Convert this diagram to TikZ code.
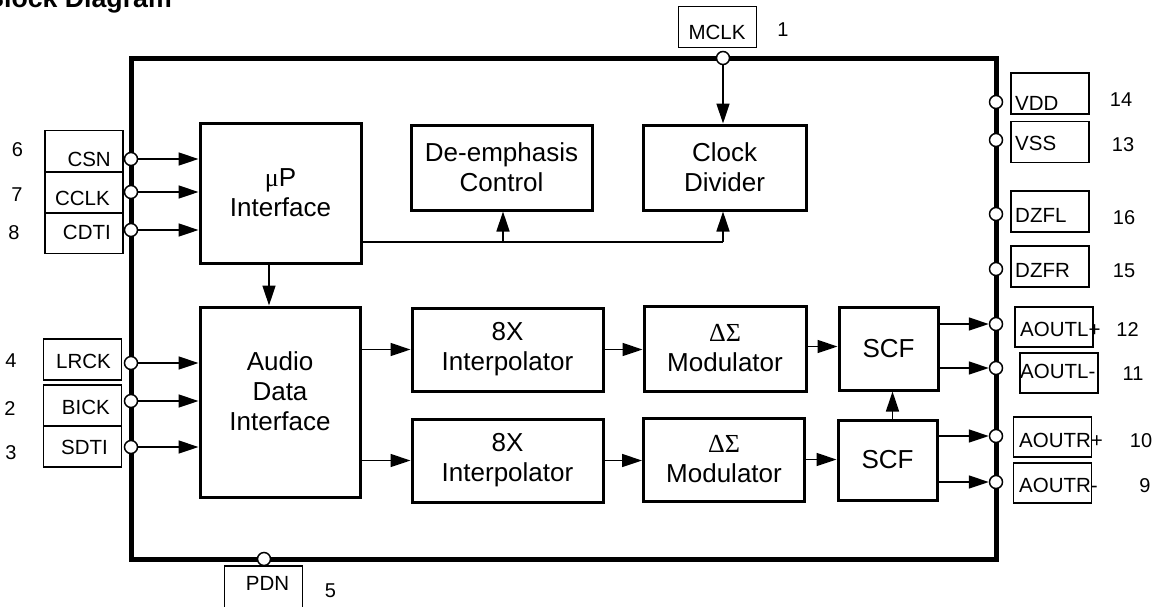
\documentclass[tikz,border=0pt]{standalone}
\usepackage{fontspec}
\setmainfont{Liberation Sans}
\newfontfamily\grk{Liberation Serif}
\usetikzlibrary{arrows.meta}
\begin{document}
\begin{tikzpicture}[x=1pt,y=-1pt,
  blk/.style={draw,line width=3pt,align=center,inner sep=0pt,font=\fontsize{26}{30}\selectfont},
  pinbox/.style={draw,line width=1.3pt,inner sep=0pt,minimum width=78pt,minimum height=41pt},
  pin/.style={circle,draw,fill=white,line width=1.5pt,minimum size=13pt,inner sep=0pt},
  lbl/.style={inner sep=0pt,font=\fontsize{20.5}{24}\selectfont},
  num/.style={inner sep=0pt,font=\fontsize{20}{24}\selectfont},
  arr/.style={line width=1.5pt,-{Triangle[length=20pt,width=13pt]}},
  wire/.style={line width=1.5pt},
  chip/.style={line width=5pt}]
\useasboundingbox (0,0) rectangle (1155,606);

% title (partly cut off at the top, as in the reference)
\node[anchor=base east,inner sep=0pt,font=\fontsize{26.7}{30}\selectfont\bfseries] (title) at (172,7) {Block Diagram};

% chip outline
\draw[chip] (131,58) rectangle (996,559);

% blocks
\node[blk,minimum width=161pt,minimum height=140pt] (up) at (280.5,193) {{\grk μ}P\\Interface};
\node[blk,minimum width=160pt,minimum height=190pt] (adi) at (280,402) {Audio\\Data\\Interface\\[-8pt]};
\node[blk,minimum width=181pt,minimum height=85pt] (deemph) at (501.5,167.5) {De-emphasis\\Control};
\node[blk,minimum width=163pt,minimum height=85pt] (clkdiv) at (724.5,167.5) {Clock\\Divider};
\node[blk,minimum width=191pt,minimum height=83pt] (int1) at (507.5,349.5) {8X\\Interpolator};
\node[blk,minimum width=191pt,minimum height=83pt] (int2) at (507.5,460.5) {8X\\Interpolator};
\node[blk,minimum width=162pt,minimum height=85pt] (mod1) at (725,348.5) {{\grk ΔΣ}\\Modulator};
\node[blk,minimum width=161pt,minimum height=83pt] (mod2) at (724,459.5) {{\grk ΔΣ}\\Modulator};
\node[blk,minimum width=99pt,minimum height=83pt] (scf1) at (888.5,348.5) {SCF};
\node[blk,minimum width=99pt,minimum height=80pt] (scf2) at (887.5,460) {SCF};

% pin label boxes
\node[pinbox] (bcsn) at (84,151) {};
\node[pinbox] (bcclk) at (84,192.5) {};
\node[pinbox] (bcdti) at (84,233) {};
\node[pinbox] (blrck) at (82.5,359.5) {};
\node[pinbox] (bbick) at (82.5,405.5) {};
\node[pinbox] (bsdti) at (82.5,446.5) {};
\node[pinbox] (bmclk) at (717.5,27) {};
\node[pinbox,minimum height=44pt] (bpdn) at (263.5,588) {};
\node[pinbox] (bvdd) at (1050,93.5) {};
\node[pinbox] (bvss) at (1050,142) {};
\node[pinbox] (bdzfl) at (1050,211.5) {};
\node[pinbox] (bdzfr) at (1050,266.5) {};
\node[pinbox,minimum height=40pt] (baoutlp) at (1054,327) {};
\node[pinbox,minimum height=40pt] (baoutlm) at (1059,373) {};
\node[pinbox,minimum height=40pt] (baoutrp) at (1052.5,437) {};
\node[pinbox,minimum height=40pt] (baoutrm) at (1052.5,483) {};

% pin label texts
\node[lbl,anchor=east] (tcsn) at (111,159) {CSN};
\node[lbl,anchor=east] (tcclk) at (110,198) {CCLK};
\node[lbl,anchor=east] (tcdti) at (111,232) {CDTI};
\node[lbl,anchor=east] (tlrck) at (111,361) {LRCK};
\node[lbl,anchor=east] (tbick) at (110,407.5) {BICK};
\node[lbl,anchor=east] (tsdti) at (108,447) {SDTI};
\node[lbl] (tmclk) at (717,32.5) {MCLK};
\node[lbl] (tpdn) at (267.5,583.5) {PDN};
\node[lbl,anchor=west] (tvdd) at (1015,103.5) {VDD};
\node[lbl,anchor=west] (tvss) at (1015,143) {VSS};
\node[lbl,anchor=west] (tdzfl) at (1015,215) {DZFL};
\node[lbl,anchor=west] (tdzfr) at (1015,270) {DZFR};
\node[lbl,anchor=west] (taoutlp) at (1020,329.5) {AOUTL+};
\node[lbl,anchor=west] (taoutlm) at (1020,371) {AOUTL-};
\node[lbl,anchor=west] (taoutrp) at (1019,440) {AOUTR+};
\node[lbl,anchor=west] (taoutrm) at (1019,485) {AOUTR-};

% pin numbers
\node[num] (n6) at (17.5,149.5) {6};
\node[num] (n7) at (17,195) {7};
\node[num] (n8) at (14,232.5) {8};
\node[num] (n4) at (11,361) {4};
\node[num] (n2) at (10,408.5) {2};
\node[num] (n3) at (11,453) {3};
\node[num] (n1) at (783,30) {1};
\node[num] (n5) at (330.5,590.5) {5};
\node[num] (n14) at (1121,100) {14};
\node[num] (n13) at (1123,145) {13};
\node[num] (n16) at (1124,217.5) {16};
\node[num] (n15) at (1124,271) {15};
\node[num] (n12) at (1127.5,330) {12};
\node[num] (n11) at (1133,373.5) {11};
\node[num] (n10) at (1141,441) {10};
\node[num] (n9) at (1145,485.5) {9};

% pins (circles on the outline)
\node[pin] (csn) at (131,159) {};
\node[pin] (cclk) at (131,192) {};
\node[pin] (cdti) at (131,230) {};
\node[pin] (lrck) at (131,363) {};
\node[pin] (bick) at (131,401) {};
\node[pin] (sdti) at (131,447) {};
\node[pin] (mclk) at (723,58) {};
\node[pin] (pdn) at (264,559) {};
\node[pin] (vdd) at (996,102) {};
\node[pin] (vss) at (996,140) {};
\node[pin] (dzfl) at (996,214) {};
\node[pin] (dzfr) at (996,269) {};
\node[pin] (aoutlp) at (996,324) {};
\node[pin] (aoutlm) at (996,368) {};
\node[pin] (aoutrp) at (996,436) {};
\node[pin] (aoutrm) at (996,482) {};

% connectors
\draw[arr] (csn.east) -- (csn.east -| up.west);
\draw[arr] (cclk.east) -- (cclk.east -| up.west);
\draw[arr] (cdti.east) -- (cdti.east -| up.west);
\draw[arr] (lrck.east) -- (lrck.east -| adi.west);
\draw[arr] (bick.east) -- (bick.east -| adi.west);
\draw[arr] (sdti.east) -- (sdti.east -| adi.west);

\draw[arr] ([xshift=-11.5pt]up.south) -- ([xshift=-11.5pt]up.south |- adi.north);

\coordinate (bus) at (0,242);
\draw[wire] (up.east |- bus) -- ([xshift=-1.5pt]clkdiv.south |- bus);
\draw[arr] ([xshift=1.5pt]deemph.south |- bus) -- ([xshift=1.5pt]deemph.south);
\draw[arr] ([xshift=-1.5pt]clkdiv.south |- bus) -- ([xshift=-1.5pt]clkdiv.south);
\draw[arr] (mclk.south) -- (mclk.south |- clkdiv.north);

\draw[arr] (int1.west -| adi.east) -- (int1.west);
\draw[arr] (int2.west -| adi.east) -- (int2.west);
\draw[arr] (int1.east) -- (int1.east -| mod1.west);
\draw[arr] (int2.east) -- (int2.east -| mod2.west);
\draw[arr] ([yshift=2pt]mod1.east) -- ([yshift=2pt]mod1.east -| scf1.west);
\draw[arr] (mod2.east) -- (mod2.east -| scf2.west);
\draw[arr] ([xshift=5pt]scf2.north) -- ([xshift=5pt]scf2.north |- scf1.south);

\draw[arr] (scf1.east |- aoutlp) -- (aoutlp.west);
\draw[arr] (scf1.east |- aoutlm) -- (aoutlm.west);
\draw[arr] (scf2.east |- aoutrp) -- (aoutrp.west);
\draw[arr] (scf2.east |- aoutrm) -- (aoutrm.west);
\end{tikzpicture}
\end{document}
